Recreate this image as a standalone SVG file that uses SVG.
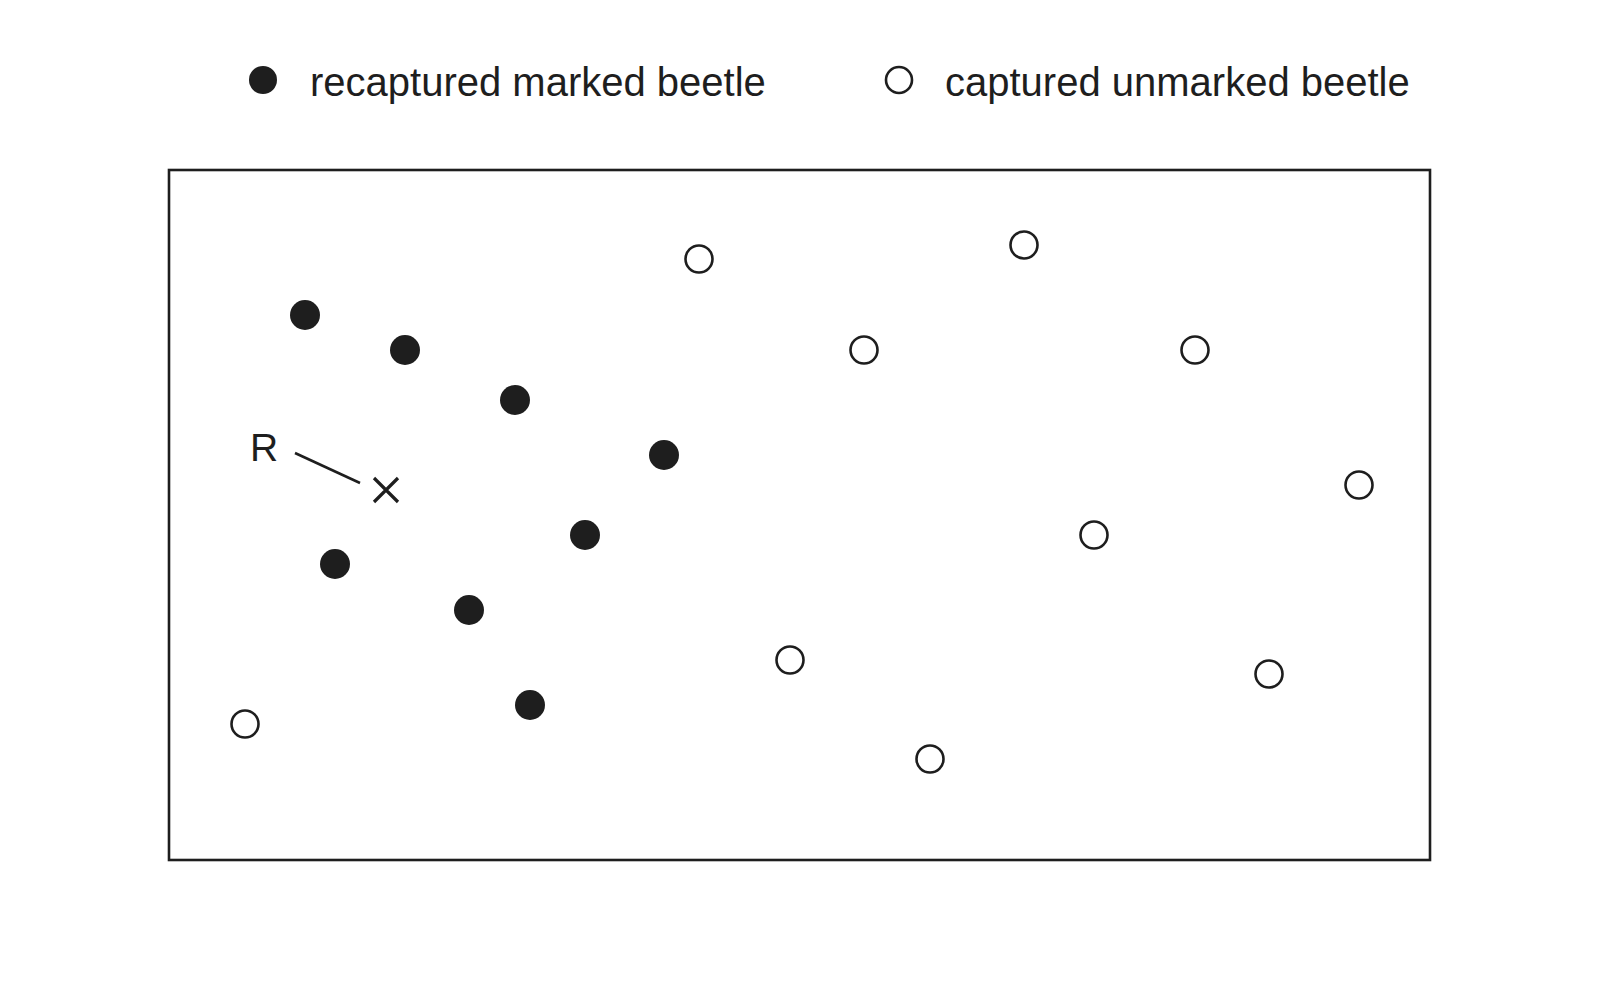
<svg xmlns="http://www.w3.org/2000/svg" width="1600" height="1000" viewBox="0 0 1600 1000">
<style>
.t{font-family:"Liberation Sans",Arial,sans-serif;fill:#1e1e1e}
.m{fill:#1e1e1e}
.u{fill:#fff;stroke:#1e1e1e;stroke-width:2.6}
.ln{stroke:#1e1e1e;stroke-width:2.6;fill:none}
</style>
<rect width="1600" height="1000" fill="#fff"/>
<g id="legend">
<circle class="m" cx="263" cy="80" r="14"/>
<text class="t" x="310" y="96" font-size="40">recaptured marked beetle</text>
<circle class="u" cx="899" cy="80" r="13"/>
<text class="t" x="945" y="96" font-size="40">captured unmarked beetle</text>
</g>
<g id="frame">
<rect class="ln" x="169" y="170" width="1261" height="690"/>
</g>
<g id="release">
<text class="t" x="250" y="461" font-size="39">R</text>
<line class="ln" x1="295" y1="453" x2="360" y2="483"/>
<path class="ln" style="stroke-width:3.2" d="M374 478L398 502M398 478L374 502"/>
</g>
<g id="marked">
<circle class="m" cx="305" cy="315" r="15"/>
<circle class="m" cx="405" cy="350" r="15"/>
<circle class="m" cx="515" cy="400" r="15"/>
<circle class="m" cx="664" cy="455" r="15"/>
<circle class="m" cx="585" cy="535" r="15"/>
<circle class="m" cx="335" cy="564" r="15"/>
<circle class="m" cx="469" cy="610" r="15"/>
<circle class="m" cx="530" cy="705" r="15"/>
</g>
<g id="unmarked">
<circle class="u" cx="699" cy="259" r="13.5"/>
<circle class="u" cx="1024" cy="245" r="13.5"/>
<circle class="u" cx="864" cy="350" r="13.5"/>
<circle class="u" cx="1195" cy="350" r="13.5"/>
<circle class="u" cx="1359" cy="485" r="13.5"/>
<circle class="u" cx="1094" cy="535" r="13.5"/>
<circle class="u" cx="790" cy="660" r="13.5"/>
<circle class="u" cx="1269" cy="674" r="13.5"/>
<circle class="u" cx="930" cy="759" r="13.5"/>
<circle class="u" cx="245" cy="724" r="13.5"/>
</g>
</svg>
